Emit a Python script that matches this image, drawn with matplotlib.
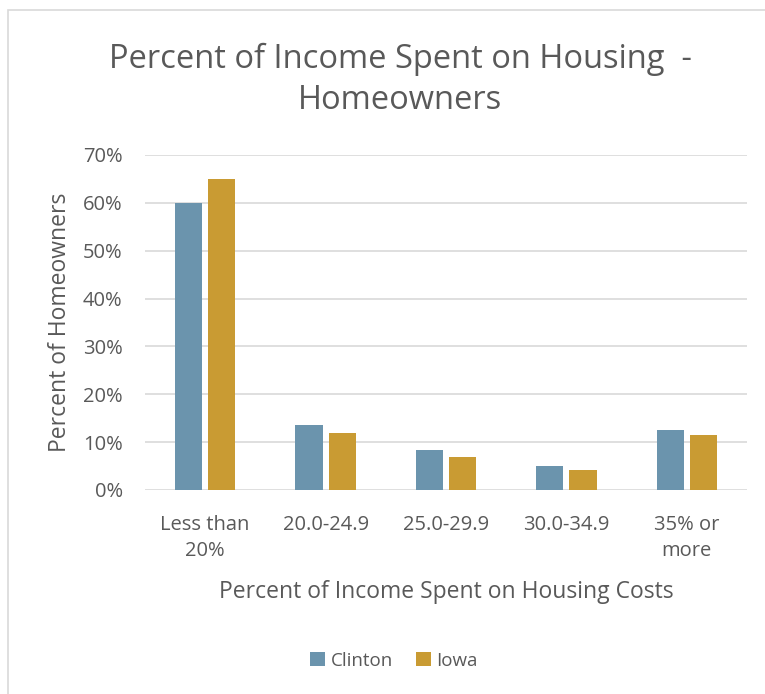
import numpy as np
import matplotlib.pyplot as plt
from matplotlib.patches import Rectangle
from matplotlib.ticker import PercentFormatter

# Data
categories = ['Less than\n20%', '20.0-24.9', '25.0-29.9', '30.0-34.9', '35% or\nmore']
clinton = [60.0, 13.5, 8.3, 5.0, 12.6]
iowa = [64.9, 11.9, 6.9, 4.2, 11.5]

grey = '#595959'
plt.rcParams['font.family'] = ['Open Sans', 'DejaVu Sans']

fig = plt.figure(figsize=(7.65, 6.94), dpi=100)
ax = fig.add_axes([0.1895, 0.294, 0.787, 0.4827])

x = np.arange(len(categories))
w = 0.225
ax.bar(x - w/2 - 0.025, clinton, w, color='#6b94ad', label='Clinton', zorder=3)
ax.bar(x + w/2 + 0.025, iowa, w, color='#c99b33', label='Iowa', zorder=3)

ax.set_xlim(-0.5, len(categories) - 0.5)
ax.set_ylim(0, 70)
ax.set_yticks(np.arange(0, 71, 10))
ax.yaxis.set_major_formatter(PercentFormatter(decimals=0))
ax.grid(axis='y', color='#d9d9d9', linewidth=1.2, zorder=0)
for s in ax.spines.values():
    s.set_visible(False)
ax.tick_params(length=0, colors=grey, labelsize=14.5)
ax.tick_params(axis='y', pad=16)
ax.tick_params(axis='x', pad=18)
ax.set_xticks(x)
ax.set_xticklabels(categories, linespacing=1.4)

ax.set_ylabel('Percent of Homeowners', color=grey, fontsize=16.5, labelpad=8)
ax.set_xlabel('Percent of Income Spent on Housing Costs', color=grey, fontsize=16.5, labelpad=14)

fig.text(0.523, 0.885, 'Percent of Income Spent on Housing  -\nHomeowners', ha='center', va='center',
         fontsize=23.5, color=grey, linespacing=1.35)

fig.legend(loc='center', bbox_to_anchor=(0.515, 0.048), ncol=2, frameon=False,
           fontsize=13.5, labelcolor=grey, handlelength=0.8, handleheight=0.8,
           handletextpad=0.3, columnspacing=1.2)

fig.patches.append(Rectangle((8/765, -0.1), 1.2, 1 - 10/694 + 0.1, transform=fig.transFigure,
                             fill=False, edgecolor='#d9d9d9', linewidth=1.2))

fig.savefig('out.png', dpi=100)
